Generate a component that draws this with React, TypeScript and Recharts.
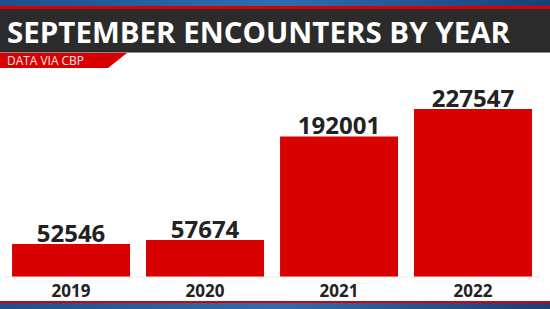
import React from "react"
import { Bar, BarChart, LabelList, XAxis, YAxis } from "recharts"

// September encounters by year (data via CBP)
const years = ["2019", "2020", "2021", "2022"]
const encounters = [52546, 57674, 192001, 227547]

const TITLE = "SEPTEMBER ENCOUNTERS BY YEAR"
const SOURCE = "DATA VIA CBP"

const RED = "#d80000"
const FONT = "'Open Sans', 'Noto Sans', sans-serif"

const data = years.map((year, i) => ({ year, value: encounters[i] }))

function YearTick(props: any) {
  const { x, y, payload } = props
  return (
    <text x={x} y={y} textAnchor="middle" dominantBaseline="central" fontSize={17} fontWeight={700} fill="#222" fontFamily={FONT}>
      {payload.value}
    </text>
  )
}

function Decor() {
  return (
    <svg width={550} height={309} style={{ position: "absolute", left: 0, top: 0 }}>
      <defs>
        <linearGradient id="blueBand" x1="0" x2="1" y1="0" y2="0">
          <stop offset="0" stopColor="#1d4f8c" />
          <stop offset="0.5" stopColor="#2f6db0" />
          <stop offset="1" stopColor="#1a3f74" />
        </linearGradient>
      </defs>
      <rect x={0} y={0} width={550} height={6} fill="url(#blueBand)" />
      <rect x={0} y={6} width={550} height={3} fill={RED} />
      <rect x={0} y={9} width={550} height={43} fill="#2b2b2b" />
      <rect x={0} y={52} width={550} height={1} fill="#8a8a8a" />
      <text x={7} y={43} fill="#fff" fontSize={28} fontWeight={700} fontFamily={FONT} textLength={503} lengthAdjust="spacingAndGlyphs">
        {TITLE}
      </text>
      <polygon points="0,53 127,53 108,68 0,68" fill={RED} />
      <text x={7} y={65} fill="#ffe8e8" fontSize={12} fontFamily={FONT} textLength={77} lengthAdjust="spacingAndGlyphs">
        {SOURCE}
      </text>
      <rect x={0} y={301} width={550} height={2} fill={RED} />
      <rect x={0} y={303} width={550} height={6} fill="url(#blueBand)" />
    </svg>
  )
}

export default function App() {
  return (
    <div style={{ position: "absolute", left: 0, top: 0, width: 550, height: 309, background: "#fff", overflow: "hidden" }}>
      <div style={{ position: "absolute", left: 0, top: 0 }}>
        <BarChart width={550} height={301} data={data} margin={{ top: 109, right: 10, left: 4, bottom: 0 }} barCategoryGap="6%">
          <XAxis dataKey="year" height={24} tickLine={false} tickSize={0} tickMargin={13} axisLine={{ stroke: "#ececec" }} tick={<YearTick />} interval={0} />
          <YAxis hide domain={[9750, 227547]} allowDataOverflow />
          <Bar dataKey="value" fill={RED} isAnimationActive={false}>
            <LabelList dataKey="value" position="top" offset={2} fontSize={24} fontWeight={700} fill="#222" fontFamily={FONT} />
          </Bar>
        </BarChart>
      </div>
      <Decor />
    </div>
  )
}
